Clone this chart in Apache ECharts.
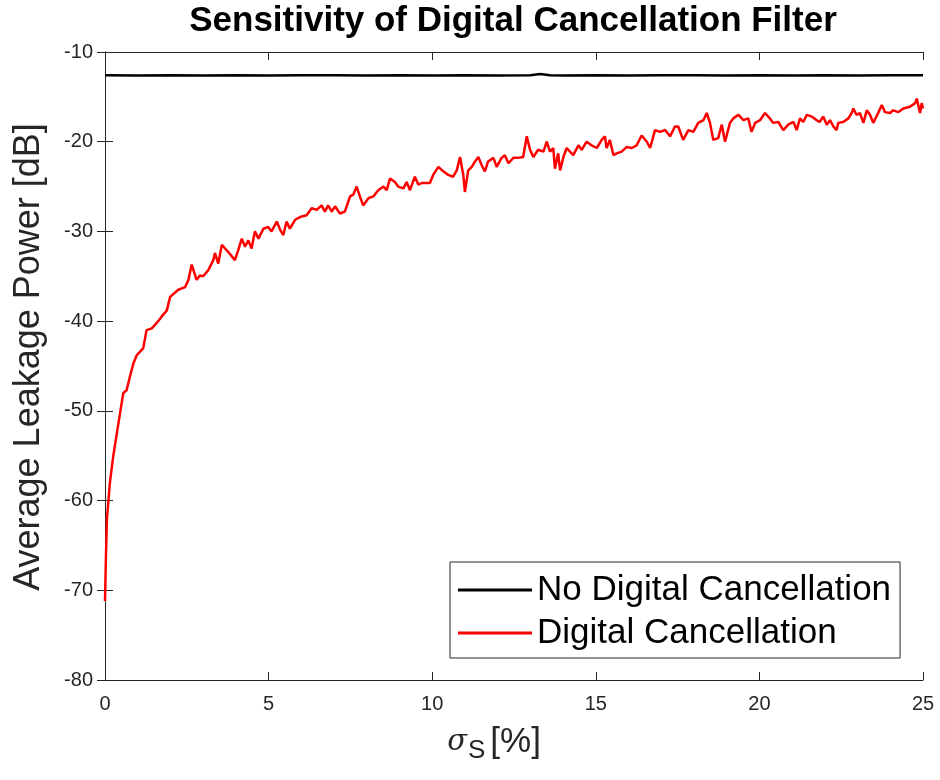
<!DOCTYPE html>
<html>
<head>
<meta charset="utf-8">
<script src="https://cdn.jsdelivr.net/npm/echarts@6/dist/echarts.min.js"></script>
<style>html,body{margin:0;padding:0;background:#fff}#c{width:940px;height:780px}</style>
</head>
<body>
<div id="c"></div>
<script>
const titleText = 'Sensitivity of Digital Cancellation Filter';
const xName = 'σS [%]';
const yName = 'Average Leakage Power [dB]';
const seriesNames = ['No Digital Cancellation', 'Digital Cancellation'];
const xTicks = [0, 5, 10, 15, 20, 25];
const yTicks = [-80, -70, -60, -50, -40, -30, -20, -10];

const noCancelPoints = [
  [0,-12.60],[1,-12.62],[2,-12.58],[3,-12.61],[4,-12.59],[5,-12.62],[6,-12.60],[7,-12.58],
  [8,-12.61],[9,-12.60],[10,-12.62],[11,-12.59],[12,-12.61],[13,-12.58],[13.3,-12.45],[13.6,-12.60],
  [14,-12.61],[15,-12.59],[16,-12.62],[17,-12.60],[18,-12.58],[19,-12.61],[20,-12.60],[21,-12.62],
  [22,-12.59],[23,-12.61],[24,-12.60],[25,-12.60]
];

const cancelPoints = [
  [0,-71.2],[0.03,-66],[0.06,-62],[0.15,-58],[0.25,-55.1],[0.41,-51.4],[0.56,-48.0],[0.66,-47.7],
  [0.76,-46.2],[0.87,-44.7],[0.97,-43.8],[1.17,-43.0],[1.27,-41.0],[1.43,-40.8],[1.58,-40.2],[1.73,-39.5],
  [1.89,-38.8],[1.99,-37.3],[2.24,-36.5],[2.45,-36.2],[2.55,-35.4],[2.65,-33.7],[2.80,-35.4],[2.90,-34.9],
  [3.00,-35.0],[3.16,-34.3],[3.31,-33.2],[3.36,-32.4],[3.46,-33.6],[3.57,-31.5],[3.67,-31.9],[3.77,-32.3],
  [3.97,-33.2],[4.07,-32.1],[4.18,-30.8],[4.28,-31.7],[4.38,-31.0],[4.48,-31.9],[4.58,-30.0],[4.69,-30.8],
  [4.84,-29.7],[4.99,-29.5],[5.09,-30.0],[5.25,-28.9],[5.35,-29.8],[5.45,-30.4],[5.55,-28.9],[5.65,-29.7],
  [5.81,-28.7],[5.96,-28.4],[6.16,-28.2],[6.32,-27.4],[6.47,-27.6],[6.62,-27.1],[6.72,-27.8],[6.82,-27.1],
  [6.93,-27.8],[7.03,-27.2],[7.18,-28.0],[7.33,-27.8],[7.49,-26.1],[7.59,-25.9],[7.69,-25.0],[7.79,-26.1],
  [7.89,-27.1],[8.05,-26.3],[8.20,-26.1],[8.35,-25.4],[8.51,-25.0],[8.61,-25.4],[8.71,-24.1],[8.86,-24.5],
  [8.96,-25.0],[9.12,-25.2],[9.22,-24.5],[9.32,-25.4],[9.47,-23.9],[9.58,-24.8],[9.68,-24.6],[9.93,-24.6],
  [10.03,-23.7],[10.19,-22.8],[10.34,-23.3],[10.49,-23.7],[10.64,-23.9],[10.75,-23.2],[10.85,-21.7],[10.95,-23.7],
  [11.00,-25.6],[11.10,-23.2],[11.21,-22.8],[11.31,-22.2],[11.41,-21.7],[11.51,-22.6],[11.61,-23.3],[11.71,-22.2],
  [11.87,-21.8],[11.97,-22.8],[12.12,-21.8],[12.22,-21.5],[12.33,-22.4],[12.48,-21.8],[12.63,-21.8],[12.78,-21.7],
  [12.89,-19.4],[12.99,-20.9],[13.09,-21.7],[13.24,-20.9],[13.40,-21.1],[13.50,-20.0],[13.60,-21.1],[13.70,-20.7],
  [13.75,-23.0],[13.85,-21.3],[13.91,-23.2],[14.01,-21.7],[14.11,-20.7],[14.21,-21.1],[14.31,-21.5],[14.47,-20.4],
  [14.57,-20.9],[14.72,-20.0],[14.87,-20.4],[15.03,-20.7],[15.18,-19.8],[15.28,-19.4],[15.33,-20.7],[15.43,-19.8],
  [15.54,-21.5],[15.64,-21.3],[15.79,-21.1],[15.94,-20.6],[16.10,-20.7],[16.25,-20.4],[16.40,-19.3],[16.56,-20.0],
  [16.66,-20.7],[16.81,-18.7],[16.96,-18.9],[17.12,-18.7],[17.27,-19.4],[17.42,-18.3],[17.52,-18.3],[17.67,-19.8],
  [17.83,-18.7],[17.98,-18.9],[18.13,-17.9],[18.29,-17.6],[18.39,-16.8],[18.49,-17.9],[18.59,-19.8],[18.74,-19.6],
  [18.85,-18.1],[18.95,-20.0],[19.10,-17.9],[19.20,-17.4],[19.36,-17.0],[19.51,-17.6],[19.66,-17.4],[19.76,-18.9],
  [19.87,-17.9],[20.02,-17.6],[20.17,-16.8],[20.32,-17.4],[20.42,-17.9],[20.58,-17.8],[20.73,-18.7],[20.88,-18.1],
  [21.04,-17.8],[21.14,-18.7],[21.24,-17.4],[21.34,-17.8],[21.45,-17.0],[21.60,-17.2],[21.75,-17.6],[21.84,-17.8],
  [21.95,-17.2],[22.06,-18.1],[22.16,-17.6],[22.26,-18.3],[22.36,-18.7],[22.41,-17.9],[22.56,-17.8],[22.72,-17.4],
  [22.82,-16.8],[22.87,-16.3],[22.97,-17.0],[23.07,-16.8],[23.18,-17.9],[23.28,-16.5],[23.38,-17.0],[23.48,-17.9],
  [23.63,-16.8],[23.74,-15.9],[23.84,-16.7],[23.99,-16.8],[24.09,-16.5],[24.25,-16.7],[24.40,-16.3],[24.60,-16.1],
  [24.76,-15.7],[24.81,-15.2],[24.91,-16.8],[24.96,-15.7],[25.00,-16.3]
];

const FONT = '"Liberation Sans", Arial, Helvetica, sans-serif';
const AX = '#262626';

const chart = echarts.init(document.getElementById('c'), null, {renderer: 'canvas'});
const common = {
  axisLine: {show: true, lineStyle: {color: AX, width: 1}},
  axisTick: {show: true, inside: true, length: 8, lineStyle: {color: AX, width: 1}},
  splitLine: {show: false}
};
chart.setOption({
  animation: false,
  backgroundColor: '#fff',
  title: {
    text: titleText, left: 508, top: -1, textAlign: 'center',
    textStyle: {fontFamily: FONT, fontSize: 35, fontWeight: 'bold', color: '#000'}
  },
  grid: {left: 105, right: 17, top: 52, bottom: 100, containLabel: false},
  legend: {
    orient: 'vertical', left: 450, top: 562,
    padding: [8, 9, 5, 8], itemGap: 3, itemWidth: 74, itemHeight: 3,
    borderColor: AX, borderWidth: 1, backgroundColor: '#fff',
    textStyle: {fontFamily: FONT, fontSize: 35, color: '#000', lineHeight: 40},
    data: [
      {name: seriesNames[0], icon: 'rect', itemStyle: {color: '#000'}},
      {name: seriesNames[1], icon: 'rect', itemStyle: {color: '#ff0000'}}
    ]
  },
  xAxis: [
    Object.assign({
      type: 'value', position: 'bottom', min: xTicks[0], max: xTicks[xTicks.length - 1], interval: 5,
      name: '{sig|σ}{sub|S}{br|[%]}', nameLocation: 'middle', nameGap: 40,
      nameTextStyle: {fontFamily: FONT, fontSize: 34, color: AX,
        rich: {sig: {fontFamily: '"DejaVu Serif", serif', fontStyle: 'italic', fontSize: 29, color: AX},
               sub: {fontFamily: FONT, fontSize: 26, color: AX, padding: [18, 5, 0, 1]},
               br: {fontFamily: FONT, fontSize: 35, color: AX, padding: [0, 40, 0, 0]}}},
      axisLabel: {fontFamily: FONT, fontSize: 20, color: AX, margin: 14}
    }, common),
    Object.assign({
      type: 'value', position: 'top', min: xTicks[0], max: xTicks[xTicks.length - 1], interval: 5,
      axisLabel: {show: false}
    }, common)
  ],
  yAxis: [
    Object.assign({
      type: 'value', position: 'left', min: yTicks[0], max: yTicks[yTicks.length - 1], interval: 10,
      name: yName, nameLocation: 'middle', nameGap: 58,
      nameTextStyle: {fontFamily: FONT, fontSize: 36, color: AX, padding: [0, 0, 0, 18]},
      axisLabel: {fontFamily: FONT, fontSize: 20, color: AX, margin: 12}
    }, common),
    Object.assign({
      type: 'value', position: 'right', min: yTicks[0], max: yTicks[yTicks.length - 1], interval: 10,
      axisLabel: {show: false}
    }, common)
  ],
  series: [
    {name: seriesNames[0], type: 'line', data: noCancelPoints, symbol: 'none', showSymbol: false,
     lineStyle: {color: '#000', width: 2.5}, itemStyle: {color: '#000'}, z: 3},
    {name: seriesNames[1], type: 'line', data: cancelPoints, symbol: 'none', showSymbol: false,
     lineStyle: {color: '#ff0000', width: 2.5}, itemStyle: {color: '#ff0000'}, z: 2}
  ]
});
</script>
</body>
</html>
